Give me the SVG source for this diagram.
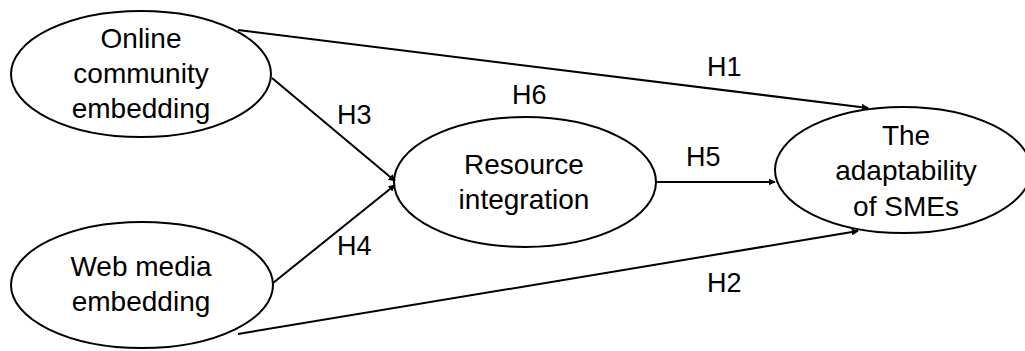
<svg xmlns="http://www.w3.org/2000/svg" width="1025" height="351" viewBox="0 0 1025 351">
<style>
.n{fill:#fff;stroke:#000;stroke-width:2}
.t{font-family:"Liberation Sans",Arial,sans-serif;font-size:28px;fill:#000;text-anchor:middle}
.l{font-family:"Liberation Sans",Arial,sans-serif;font-size:27px;fill:#000}
.c{stroke:#000;stroke-width:2;fill:none;marker-end:url(#a)}
</style>
<defs>
<marker id="a" viewBox="0 0 10 10" refX="9" refY="5" markerWidth="7" markerHeight="7" markerUnits="userSpaceOnUse" orient="auto"><path d="M0,0 L10,5 L0,10 Z" fill="#000"/></marker>
</defs>
<rect width="1025" height="351" fill="#fff"/>
<g id="n1"><ellipse class="n" cx="141" cy="74" rx="130" ry="63"/><text class="t" x="141" y="48">Online</text><text class="t" x="141" y="83">community</text><text class="t" x="141" y="118">embedding</text></g>
<g id="n2"><ellipse class="n" cx="142" cy="285" rx="131" ry="63"/><text class="t" x="141" y="276">Web media</text><text class="t" x="141" y="311">embedding</text></g>
<g id="n3"><ellipse class="n" cx="525" cy="182" rx="131" ry="65"/><text class="t" x="524" y="174">Resource</text><text class="t" x="524" y="209">integration</text></g>
<g id="n4"><ellipse class="n" cx="903" cy="170" rx="128" ry="63"/><text class="t" x="906" y="145">The</text><text class="t" x="906" y="180">adaptability</text><text class="t" x="906" y="216">of SMEs</text></g>
<g id="connectors">
<line class="c" x1="238" y1="30" x2="868" y2="108"/>
<line class="c" x1="272" y1="78" x2="395" y2="181"/>
<line class="c" x1="273" y1="283" x2="395" y2="185"/>
<line class="c" x1="656" y1="182" x2="775" y2="182"/>
<line class="c" x1="238" y1="334" x2="858" y2="231"/>
</g>
<g id="labels">
<text class="l" x="707" y="76">H1</text>
<text class="l" x="512" y="104">H6</text>
<text class="l" x="337" y="124">H3</text>
<text class="l" x="686" y="166">H5</text>
<text class="l" x="337" y="255">H4</text>
<text class="l" x="707" y="292">H2</text>
</g>
</svg>
